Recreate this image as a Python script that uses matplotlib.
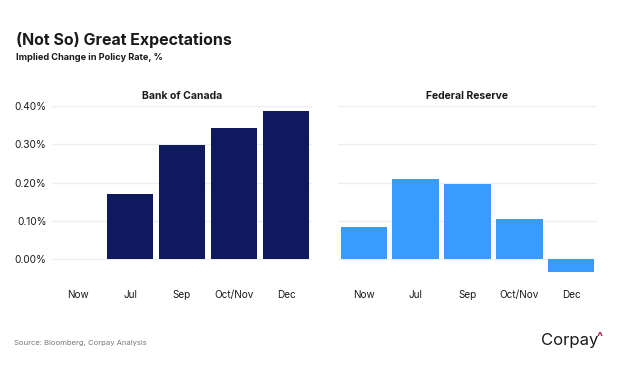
import matplotlib.pyplot as plt

# data
periods = ["Now", "Jul", "Sep", "Oct/Nov", "Dec"]
boc = [0.0, 0.17, 0.297, 0.342, 0.386]
fed = [0.084, 0.210, 0.197, 0.104, -0.032]
yticks = [0.0, 0.1, 0.2, 0.3, 0.4]
ylabels = ["0.00%", "0.10%", "0.20%", "0.30%", "0.40%"]

navy = "#0f1a5e"
blue = "#3a9bff"
grid = "#eeeeee"
txt = "#1a1a1a"

plt.rcParams['font.family'] = ['Inter', 'DejaVu Sans']

fig = plt.figure(figsize=(6.24, 3.68), dpi=100)
ax1 = fig.add_axes([52/624, 1-278.5/368, 260/624, 172.5/368])
ax2 = fig.add_axes([338/624, 1-278.5/368, 259/624, 172.5/368])

for ax, vals, col, name in [(ax1, boc, navy, "Bank of Canada"),
                            (ax2, fed, blue, "Federal Reserve")]:
    x = range(len(periods))
    ax.bar(x, vals, width=0.9, color=col, zorder=3)
    ax.set_xlim(-0.5, 4.5)
    ax.set_ylim(-0.05, 0.40)
    ax.set_yticks(yticks)
    ax.set_xticks(list(x))
    ax.set_xticklabels(periods, fontsize=7.2, color=txt)
    ax.tick_params(length=0)
    ax.tick_params(axis='x', pad=8)
    ax.yaxis.grid(True, color=grid, linewidth=1, zorder=0)
    for s in ax.spines.values():
        s.set_visible(False)
    ax.set_title(name, fontsize=7.5, fontweight='bold', color=txt, pad=5)

ax1.set_yticklabels(ylabels, fontsize=7.3, color=txt)
ax1.tick_params(axis='y', pad=4)
ax2.set_yticklabels([])

fig.text(16/624, 1-40/368, "(Not So) Great Expectations", fontsize=11.5,
         fontweight='bold', color=txt, va='center')
fig.text(16/624, 1-58/368, "Implied Change in Policy Rate, %", fontsize=6.6,
         fontweight='bold', color=txt, va='center')
fig.text(14/624, 1-343/368, "Source: Bloomberg, Corpay Analysis", fontsize=5.5,
         color="#777777", va='center')
fig.text(541/624, 1-341/368, "Corpay", fontsize=12, color=txt, va='center')
fig.text(597/624, 1-338/368, "^", fontsize=9, color="#b0123c", va='center',
         fontweight='bold')

fig.savefig("out.png", dpi=100)
